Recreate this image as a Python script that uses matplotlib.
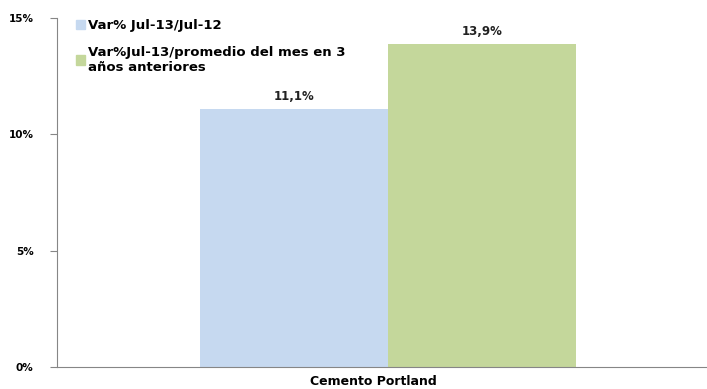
import matplotlib
matplotlib.use("Agg")
from matplotlib import pyplot as plt
from matplotlib.patches import Patch

plt.rcParams['font.family'] = ['DejaVu Sans']

categories = ["Cemento Portland"]
var_anual = [11.1]
var_promedio = [13.9]
labels = ["Var% Jul-13/Jul-12", "Var%Jul-13/promedio del mes en 3\naños anteriores"]
colors = ["#C6D9F0", "#C4D79B"]

fig = plt.figure(figsize=(7.07, 3.89), dpi=100)
ax = fig.add_axes([0.081, 0.0566, 0.919, 0.8971])

w = 0.29
x = [0]
b1 = ax.bar([p - w / 2 for p in x], var_anual, width=w, color=colors[0])
b2 = ax.bar([p + w / 2 for p in x], var_promedio, width=w, color=colors[1])

for bars, vals in ((b1, var_anual), (b2, var_promedio)):
    for r, v in zip(bars, vals):
        ax.text(r.get_x() + r.get_width() / 2, v + 0.25,
                f"{v:.1f}%".replace(".", ","), ha="center", va="bottom",
                fontsize=8.5, fontweight="bold", color="#222222")

ax.set_xlim(-0.509, 0.491)
ax.set_ylim(0, 15)
ax.set_yticks([0, 5, 10, 15])
ax.set_yticklabels(["0%", "5%", "10%", "15%"], fontsize=7.5, fontweight="bold")
# category label sits at the middle of the plot area
ax.set_xticks([-0.023])
ax.set_xticklabels(categories, fontsize=9, fontweight="bold")
ax.tick_params(axis="x", length=0, pad=6)
ax.tick_params(axis="y", length=5, color="#868686", pad=12)
for s in ("top", "right"):
    ax.spines[s].set_visible(False)
for s in ("left", "bottom"):
    ax.spines[s].set_color("#868686")

handles = [Patch(color=c) for c in colors]
ax.legend(handles, labels, loc="upper left", bbox_to_anchor=(0.01, 1.03),
          frameon=False, prop={"size": 9.5, "weight": "bold"},
          handlelength=0.7, handleheight=0.7, handletextpad=0.25,
          labelspacing=1.0)

fig.savefig("out.png", dpi=100)
